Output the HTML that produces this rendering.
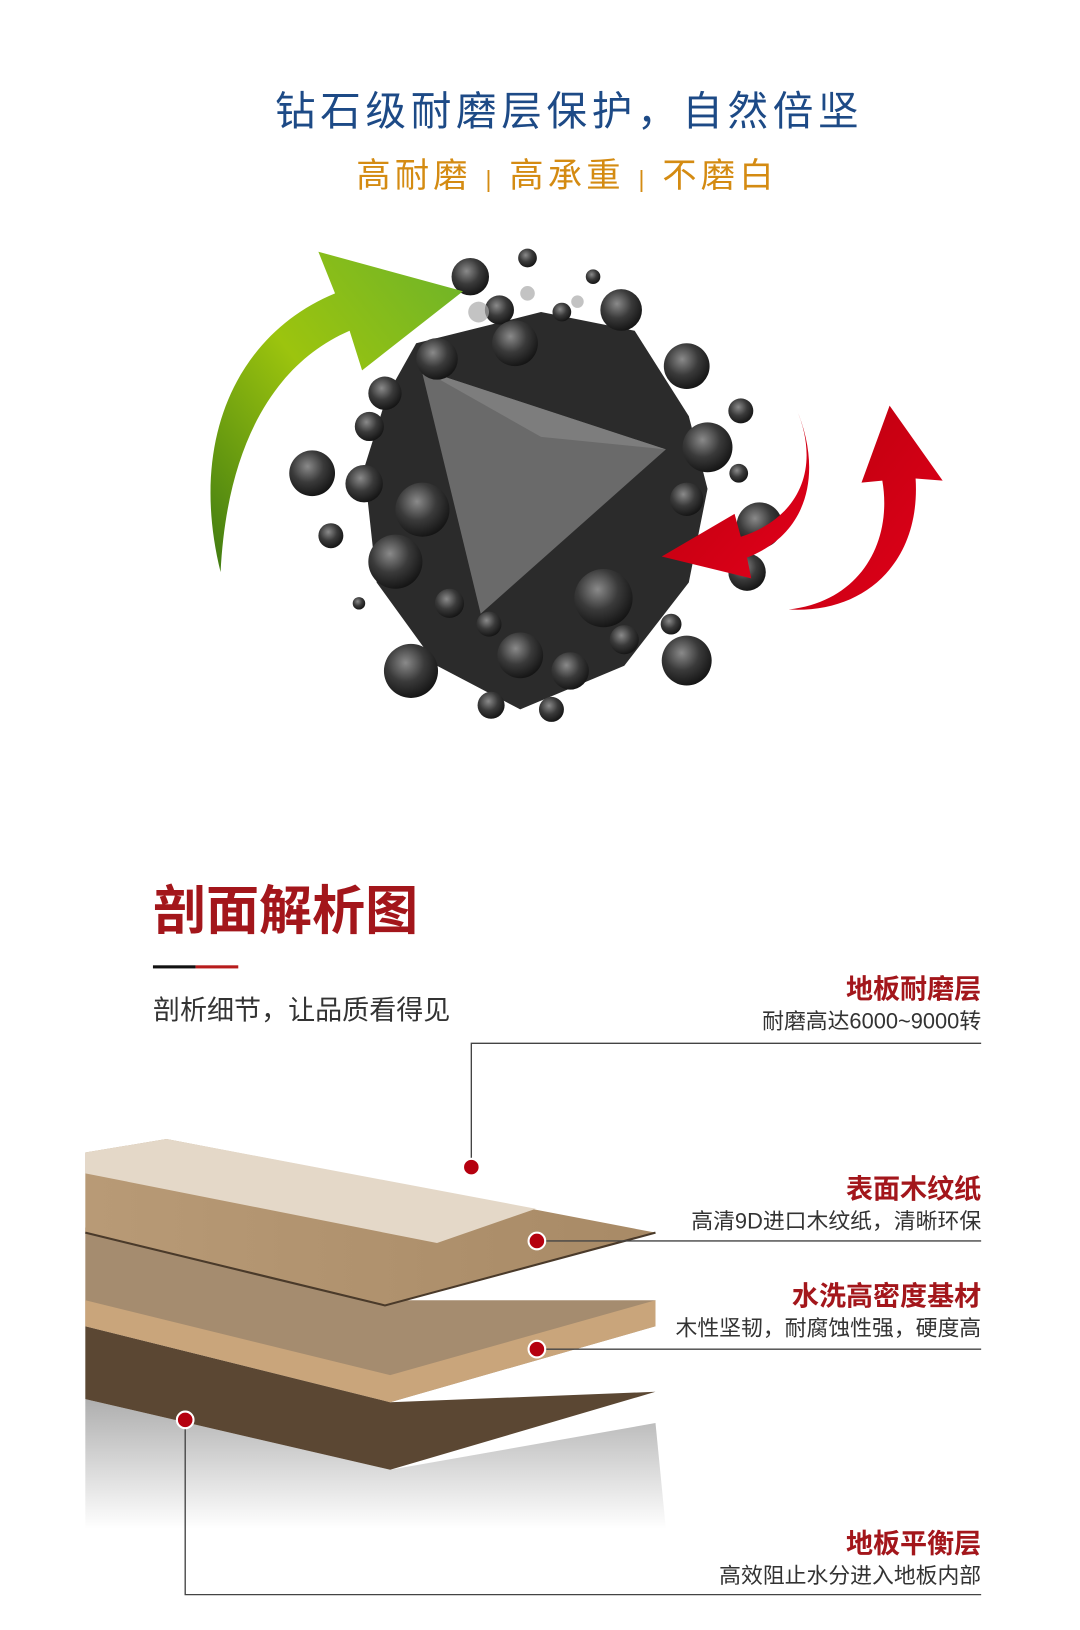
<!DOCTYPE html>
<html><head><meta charset="utf-8"><style>
html,body{margin:0;padding:0;background:#fff}
svg{display:block}
text{font-family:"Liberation Sans","Noto Sans CJK SC",sans-serif}
</style></head><body>
<svg width="1080" height="1630" viewBox="0 0 1038 1567" preserveAspectRatio="none" xmlns="http://www.w3.org/2000/svg">
<defs>
<linearGradient id="g1" x1="0" y1="1" x2="1" y2="0"><stop offset="0" stop-color="#3f7a12"/><stop offset="0.5" stop-color="#9cc40e"/><stop offset="1" stop-color="#6cb32a"/></linearGradient>
<linearGradient id="r1" x1="0" y1="0" x2="1" y2="1"><stop offset="0" stop-color="#b8000c"/><stop offset="1" stop-color="#e3001b"/></linearGradient>
<radialGradient id="ball" cx="0.4" cy="0.35" r="0.7"><stop offset="0" stop-color="#8a8a8a"/><stop offset="0.5" stop-color="#3a3a3a"/><stop offset="1" stop-color="#111"/></radialGradient>
<linearGradient id="shadow" x1="0" y1="0" x2="0" y2="1"><stop offset="0" stop-color="#9a9a9a"/><stop offset="1" stop-color="#fff"/></linearGradient>
<linearGradient id="wood" x1="0" y1="0" x2="1" y2="0"><stop offset="0" stop-color="#b89a76"/><stop offset="1" stop-color="#a88a66"/></linearGradient>
</defs>
<text x="547" y="120" text-anchor="middle" font-size="39" fill="#1d4a86" letter-spacing="4.5">钻石级耐磨层保护，自然倍坚</text>
<text x="545" y="180" text-anchor="middle" font-size="33" fill="#d48b12" letter-spacing="4">高耐磨 <tspan font-size="22">|</tspan> 高承重 <tspan font-size="22">|</tspan> 不磨白</text>

<!-- diamond -->
<polygon points="400,330 520,300 610,318 662,400 680,470 662,560 600,640 500,682 420,640 362,560 350,450 372,380" fill="#2b2b2b"/>
<polygon points="405,355 640,432 462,590" fill="#6a6a6a"/>
<polygon points="405,355 640,432 520,420" fill="#7d7d7d"/>
<g fill="url(#ball)">
<circle cx="452" cy="266" r="18"/><circle cx="507" cy="248" r="9"/><circle cx="570" cy="266" r="7"/><circle cx="597" cy="298" r="20"/>
<circle cx="480" cy="298" r="14"/><circle cx="540" cy="300" r="9"/><circle cx="495" cy="330" r="22"/><circle cx="420" cy="345" r="20"/>
<circle cx="660" cy="352" r="22"/><circle cx="370" cy="378" r="16"/><circle cx="355" cy="410" r="14"/><circle cx="712" cy="395" r="12"/>
<circle cx="680" cy="430" r="24"/><circle cx="300" cy="455" r="22"/><circle cx="350" cy="465" r="18"/><circle cx="406" cy="490" r="26"/>
<circle cx="710" cy="455" r="9"/><circle cx="318" cy="515" r="12"/><circle cx="730" cy="505" r="22"/><circle cx="660" cy="480" r="16"/>
<circle cx="380" cy="540" r="26"/><circle cx="718" cy="550" r="18"/><circle cx="580" cy="575" r="28"/><circle cx="432" cy="580" r="14"/>
<circle cx="345" cy="580" r="6"/><circle cx="395" cy="645" r="26"/><circle cx="500" cy="630" r="22"/><circle cx="548" cy="645" r="18"/>
<circle cx="660" cy="635" r="24"/><circle cx="472" cy="678" r="13"/><circle cx="530" cy="682" r="12"/><circle cx="470" cy="600" r="12"/>
<circle cx="600" cy="615" r="14"/><circle cx="645" cy="600" r="10"/>
</g>
<g fill="#aaa" opacity="0.7"><circle cx="507" cy="282" r="7"/><circle cx="555" cy="290" r="6"/><circle cx="460" cy="300" r="10"/></g>

<!-- arrows -->
<path d="M212,550 C180,420 230,320 322,282 L306,242 L445,280 L348,356 L336,318 C262,350 218,430 212,550 Z" fill="url(#g1)"/>
<path d="M765,392 C790,450 768,498 712,516 L706,494 L636,535 L722,556 L718,536 C780,512 790,450 765,392 Z" fill="url(#r1)"/>
<path d="M758,586 C828,578 858,520 848,462 L828,464 L855,390 L906,462 L880,460 C885,540 832,590 758,586 Z" fill="url(#r1)"/>

<!-- section title -->
<text x="147" y="893" font-size="51" font-weight="bold" fill="#a3161b" font-family="'Liberation Serif','Noto Serif CJK SC',serif">剖面解析图</text>
<rect x="147" y="928" width="41" height="3" fill="#111"/><rect x="188" y="928" width="41" height="3" fill="#b71c1c"/>
<text x="147" y="980" font-size="26" fill="#333">剖析细节，让品质看得见</text>

<!-- boards -->
<polygon points="82,1345 375,1413 630,1368 640,1470 82,1470" fill="url(#shadow)" opacity="0.8"/>
<polygon points="82,1275 375,1348 630,1338 375,1413 82,1345" fill="#5b4733"/>
<polygon points="82,1180 375,1250 630,1250 630,1275 375,1348 82,1275" fill="#a58c6f"/>
<polygon points="82,1250 375,1322 630,1250 630,1275 375,1348 82,1275" fill="#c9a57b"/>
<polygon points="82,1108 160,1095 630,1185 370,1255 82,1185" fill="url(#wood)"/>
<polygon points="82,1108 160,1095 515,1162 420,1195 82,1128" fill="#e4d8c8"/>
<polyline points="82,1185 370,1255 630,1185" fill="none" stroke="#4a3a2a" stroke-width="2"/>

<!-- callouts -->
<g fill="none" stroke="#444" stroke-width="1.3">
<polyline points="453,1122 453,1003 943,1003"/>
<line x1="516" y1="1193" x2="943" y2="1193"/>
<line x1="516" y1="1297" x2="943" y2="1297"/>
<polyline points="178,1365 178,1533 943,1533"/>
</g>
<g fill="#b5000f" stroke="#fff" stroke-width="2">
<circle cx="453" cy="1122" r="8"/><circle cx="516" cy="1193" r="8"/><circle cx="516" cy="1297" r="8"/><circle cx="178" cy="1365" r="8"/>
</g>
<g text-anchor="end">
<text x="943" y="960" font-size="26" font-weight="bold" fill="#a3161b">地板耐磨层</text>
<text x="943" y="989" font-size="21" fill="#333">耐磨高达6000~9000转</text>
<text x="943" y="1152" font-size="26" font-weight="bold" fill="#a3161b">表面木纹纸</text>
<text x="943" y="1181" font-size="21" fill="#333">高清9D进口木纹纸，清晰环保</text>
<text x="943" y="1255" font-size="26" font-weight="bold" fill="#a3161b">水洗高密度基材</text>
<text x="943" y="1284" font-size="21" fill="#333">木性坚韧，耐腐蚀性强，硬度高</text>
<text x="943" y="1493" font-size="26" font-weight="bold" fill="#a3161b">地板平衡层</text>
<text x="943" y="1522" font-size="21" fill="#333">高效阻止水分进入地板内部</text>
</g>
</svg>
</body></html>
